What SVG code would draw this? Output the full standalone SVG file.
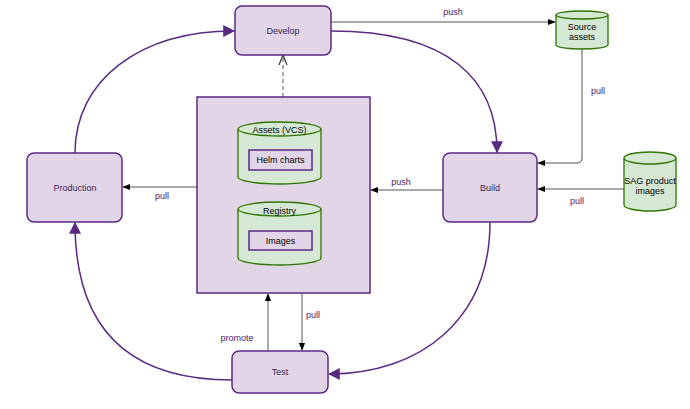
<svg xmlns="http://www.w3.org/2000/svg" width="690" height="409" viewBox="0 0 690 409">
<style>
.node{fill:#e1d5e7;stroke:#5a2a82;stroke-width:1.5}
.cyl{fill:#d5e8d4;stroke:#2d7600;stroke-width:1.3}
.inner{fill:#e1d5e7;stroke:#5a2a82;stroke-width:1.5}
.t{font-family:"Liberation Sans",Arial,sans-serif;font-size:9px;fill:#3c1f52;text-anchor:middle}
.tb{font-family:"Liberation Sans",Arial,sans-serif;font-size:9px;fill:#000;text-anchor:middle}
.lbl{font-family:"Liberation Sans",Arial,sans-serif;font-size:9px;fill:#4b2065;text-anchor:middle}
.flow{fill:none;stroke:#5a2a82;stroke-width:1.5}
.thin{fill:none;stroke:#555;stroke-width:1}
</style>
<defs>
<marker id="ap" viewBox="0 0 10 10" refX="9" refY="5" markerWidth="5" markerHeight="5" orient="auto" markerUnits="userSpaceOnUse">
<path d="M0,0 L10,5 L0,10 Z" fill="#5a2a82"/>
</marker>
<marker id="apb" viewBox="0 0 10 10" refX="9" refY="5" markerWidth="12" markerHeight="12" orient="auto" markerUnits="userSpaceOnUse">
<path d="M0,0 L10,5 L0,10 Z" fill="#5a2a82"/>
</marker>
<marker id="ak" viewBox="0 0 10 10" refX="9" refY="5" markerWidth="8" markerHeight="8" orient="auto" markerUnits="userSpaceOnUse">
<path d="M0,1 L10,5 L0,9 Z" fill="#000"/>
</marker>
<marker id="ao" viewBox="0 0 10 10" refX="9" refY="5" markerWidth="10" markerHeight="10" orient="auto" markerUnits="userSpaceOnUse">
<path d="M0,1 L10,5 L0,9" fill="none" stroke="#333" stroke-width="1.2"/>
</marker>
</defs>

<g id="connectors">
<path class="thin" d="M331,22 L555,22" marker-end="url(#ak)"/>
<path class="flow" d="M331,31 C450,31 497,80 497,152" marker-end="url(#apb)"/>
<path class="flow" d="M75,153 C75,80 140,31 234,31" marker-end="url(#apb)"/>
<path class="flow" d="M490,222 C490,320 420,374 329,374" marker-end="url(#apb)"/>
<path class="flow" d="M232,380 C130,380 75,330 75,223" marker-end="url(#apb)"/>
<path class="thin" d="M582,49 L582,158 Q582,163 577,163 L538,163" marker-end="url(#ak)"/>
<path class="thin" d="M624,189 L538,189" marker-end="url(#ak)"/>
<path class="thin" d="M443,190 L371,190" marker-end="url(#ak)"/>
<path class="thin" d="M197,187 L123,187" marker-end="url(#ak)"/>
<path class="thin" d="M268,351 L268,294" marker-end="url(#ak)"/>
<path class="thin" d="M302,293 L302,350" marker-end="url(#ak)"/>
<path class="thin" d="M283,97 L283,56" stroke-dasharray="4,3" marker-end="url(#ao)"/>
<text class="lbl" x="453" y="15">push</text>
<text class="lbl" x="598" y="94">pull</text>
<text class="lbl" x="577" y="204">pull</text>
<text class="lbl" x="401" y="185">push</text>
<text class="lbl" x="162" y="199">pull</text>
<text class="lbl" x="237" y="341">promote</text>
<text class="lbl" x="313" y="318">pull</text>
</g>

<g id="develop">
<rect class="node" x="235" y="6" width="96" height="49" rx="7"/>
<text class="t" x="283" y="34">Develop</text>
</g>

<g id="source-assets">
<path class="cyl" d="M556,15 L556,45 A26,4 0 0 0 608,45 L608,15 A26,4 0 0 0 556,15 Z"/>
<path class="cyl" d="M556,15 A26,4 0 0 0 608,15" fill="none"/>
<text class="tb" x="582" y="30">Source</text>
<text class="tb" x="582" y="40">assets</text>
</g>

<g id="build">
<rect class="node" x="443" y="153" width="94" height="69" rx="7"/>
<text class="t" x="490" y="191">Build</text>
</g>

<g id="sag-images">
<path class="cyl" d="M624,158 L624,205 A26,6 0 0 0 676,205 L676,158 A26,6 0 0 0 624,158 Z"/>
<path class="cyl" d="M624,158 A26,6 0 0 0 676,158" fill="none"/>
<text class="tb" x="650" y="184">SAG product</text>
<text class="tb" x="650" y="194">images</text>
</g>

<g id="production">
<rect class="node" x="27" y="153" width="95" height="69" rx="7"/>
<text class="t" x="75" y="191">Production</text>
</g>

<g id="test">
<rect class="node" x="232" y="351" width="96" height="42" rx="7"/>
<text class="t" x="280" y="375">Test</text>
</g>

<g id="repository">
<rect class="node" x="197" y="97" width="173" height="196"/>
<g id="assets-vcs">
<path class="cyl" d="M238,129 L238,177 A41.5,7 0 0 0 321,177 L321,129 A41.5,7 0 0 0 238,129 Z"/>
<path class="cyl" d="M238,129 A41.5,7 0 0 0 321,129" fill="none"/>
<text class="tb" x="279.5" y="133">Assets (VCS)</text>
<rect class="inner" x="249" y="150" width="63" height="20"/>
<text class="tb" x="280.5" y="163">Helm charts</text>
</g>
<g id="registry">
<path class="cyl" d="M238,209 L238,258 A41.5,7 0 0 0 321,258 L321,209 A41.5,7 0 0 0 238,209 Z"/>
<path class="cyl" d="M238,209 A41.5,7 0 0 0 321,209" fill="none"/>
<text class="tb" x="279.5" y="214">Registry</text>
<rect class="inner" x="249" y="231" width="63" height="19"/>
<text class="tb" x="280.5" y="244">Images</text>
</g>
</g>
</svg>
